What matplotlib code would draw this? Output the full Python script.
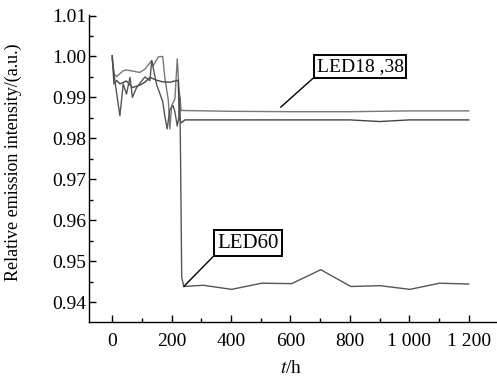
import matplotlib
matplotlib.use("Agg")
import matplotlib.pyplot as plt
from matplotlib.ticker import MultipleLocator, FixedLocator

plt.rcParams['font.family'] = ['Liberation Serif', 'DejaVu Serif']
plt.rcParams['mathtext.fontset'] = 'stix'

# aging time (h) and relative intensity for the three LEDs
t_a = [0, 6, 15, 37, 48, 93, 110, 133, 138, 155, 170, 177, 189, 194, 200, 211,
       219, 224, 232, 400, 600, 800, 1000, 1200]
i_a = [1.0002, 0.9957, 0.9951, 0.9965, 0.9967, 0.9961, 0.9969, 0.9990, 0.9977,
       0.9999, 1.0000, 0.9949, 0.9892, 0.9823, 0.9880, 0.9896, 0.9994, 0.9930,
       0.9868, 0.9866, 0.9865, 0.9865, 0.9867, 0.9867]

t_b = [0, 6, 15, 26, 48, 68, 93, 110, 127, 149, 170, 194, 222, 226, 232, 245,
       400, 600, 800, 900, 1000, 1200]
i_b = [1.0002, 0.9933, 0.9941, 0.9933, 0.9940, 0.9924, 0.9930, 0.9937, 0.9949,
       0.9942, 0.9938, 0.9937, 0.9942, 0.9850, 0.9838, 0.9845, 0.9845, 0.9845,
       0.9845, 0.9841, 0.9845, 0.9845]

t_c = [0, 10, 26, 37, 48, 60, 68, 82, 110, 127, 133, 140, 150, 160, 170, 177,
       185, 194, 205, 211, 219, 224, 228, 234, 241, 306, 402, 503, 604, 702,
       803, 901, 1002, 1101, 1200]
i_c = [0.9995, 0.9935, 0.9855, 0.9933, 0.9908, 0.9949, 0.9900, 0.9924, 0.9950,
       0.9941, 0.9990, 0.9965, 0.9930, 0.9910, 0.9890, 0.9855, 0.9823, 0.9870,
       0.9880, 0.9865, 0.9830, 0.9850, 0.9900, 0.9460, 0.9438, 0.9441, 0.9431,
       0.9446, 0.9445, 0.9479, 0.9438, 0.9440, 0.9431, 0.9446, 0.9444]

x_ticks = [0, 200, 400, 600, 800, 1000, 1200]
x_labels = ['0', '200', '400', '600', '800', '1 000', '1 200']
y_ticks = [0.94, 0.95, 0.96, 0.97, 0.98, 0.99, 1.00, 1.01]

fig = plt.figure(figsize=(4.97, 3.77), dpi=100)
ax = fig.add_axes([0.1797, 0.1467, 0.8203, 0.8143])

ax.plot(t_a, i_a, color='#777777', lw=1.0)
ax.plot(t_b, i_b, color='#444444', lw=1.0)
ax.plot(t_c, i_c, color='#555555', lw=1.0)

ax.set_xlim(-77, 1295)
ax.set_ylim(0.9352, 1.0102)

for s in ['top', 'right']:
    ax.spines[s].set_visible(False)
for s in ['left', 'bottom']:
    ax.spines[s].set_linewidth(1.0)

ax.xaxis.set_major_locator(FixedLocator(x_ticks))
ax.set_xticklabels(x_labels)
ax.xaxis.set_minor_locator(MultipleLocator(100))
ax.set_yticks(y_ticks)
ax.set_yticklabels(['%.2f' % v for v in y_ticks])
ax.yaxis.set_minor_locator(MultipleLocator(0.005))
ax.tick_params(which='major', direction='in', length=5, width=1, labelsize=14)
ax.tick_params(axis='x', which='major', pad=8)
ax.tick_params(axis='y', which='major', pad=2)
ax.tick_params(which='minor', direction='in', length=3, width=1)

ax.set_xlabel(r'$\it{t}$/h', fontsize=14)
ax.xaxis.set_label_coords(0.495, -0.125)
ax.set_ylabel('Relative emission intensity/(a.u.)', fontsize=13)
ax.yaxis.set_label_coords(-0.165, 0.52)

box = dict(boxstyle='square,pad=0.15', fc='white', ec='black', lw=1.4)
arrow = dict(arrowstyle='-', color='black', lw=1.0, relpos=(0, 0),
             shrinkA=0, shrinkB=0)
ax.annotate('LED18 ,38', xy=(567, 0.9876), xytext=(834, 0.9975),
            fontsize=14, ha='center', va='center', bbox=box, arrowprops=arrow)
ax.annotate('LED60', xy=(241, 0.9438), xytext=(456, 0.9544),
            fontsize=15, ha='center', va='center', bbox=box, arrowprops=arrow)

fig.savefig('out.png', dpi=100)
